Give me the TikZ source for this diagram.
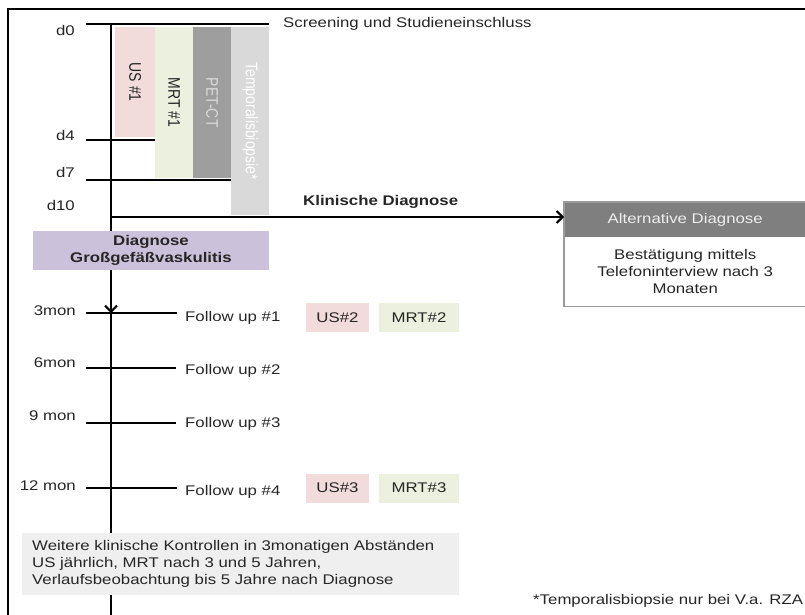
\documentclass[tikz,border=0pt]{standalone}
\usepackage{fontspec}
\setmainfont{Liberation Sans}[FakeStretch=1.2]
\newfontfamily\rotfont{Liberation Sans}
\usetikzlibrary{arrows.meta}
\definecolor{txt}{HTML}{262626}
\definecolor{uspink}{HTML}{F2DCDB}
\definecolor{mrtgreen}{HTML}{EBF1DE}
\definecolor{petgray}{HTML}{9E9E9E}
\definecolor{tempgray}{HTML}{D9D9D9}
\definecolor{lavender}{HTML}{CCC1DA}
\definecolor{altgray}{HTML}{7F7F7F}
\definecolor{altborder}{HTML}{9A9A9A}
\definecolor{notegray}{HTML}{EFEFEF}
\newcommand{\vtext}[1]{\scalebox{1.2}[1]{\rotatebox{-90}{\rotfont\fontsize{14}{17}\selectfont #1}}}
\begin{document}
\begin{tikzpicture}[x=1pt,y=-1pt,
  every node/.style={font=\fontsize{14}{17}\selectfont, text=txt, inner sep=0pt},
  tline/.style={line width=2pt, draw=black},
  vbox/.style={anchor=north west, minimum width=38, inner sep=0pt},
  exambox/.style={minimum height=29, inner sep=0pt},
  lbl/.style={anchor=base east},
  fup/.style={anchor=base west},
  arr/.style={-{Straight Barb[length=6pt,width=12pt]}}
]
\useasboundingbox (0,0) rectangle (805,614);
% frame
\coordinate (fbl) at (8,616);
\coordinate (ftl) at (8,9);
\coordinate (ftr) at (807,9);
\draw[line width=2pt] (fbl) -- (ftl) -- (ftr);

% examination bars
\node[vbox, fill=uspink, minimum width=40, minimum height=110] (us1) at (115,27) {\vtext{US \#1}};
\node[vbox, fill=mrtgreen, minimum height=151] (mrt1) at (155,27) {\vtext{MRT \#1}};
\node[vbox, fill=petgray, minimum height=151, text=tempgray] (pet) at (193,27) {\vtext{\color{tempgray}PET-CT}};
\node[vbox, fill=tempgray, minimum height=188] (temp) at (231,27) {\vtext{\color{white}Temporalisbiopsie*}};

% timeline coordinates
\coordinate (v0) at (111,23);
\coordinate (v3) at (111,313);
\coordinate (vend) at (111,616);
\coordinate (d0l) at (86,24);  \coordinate (d0r) at (269,24);
\coordinate (d4l) at (86,140); \coordinate (d4r) at (155,140);
\coordinate (d7l) at (86,180); \coordinate (d7r) at (231,180);
\coordinate (d10) at (110,217);
\coordinate (m3l) at (86,313);  \coordinate (m3r) at (177,313);
\coordinate (m6l) at (86,368);  \coordinate (m6r) at (176,368);
\coordinate (m9l) at (86,423);  \coordinate (m9r) at (176,423);
\coordinate (m12l) at (86,488); \coordinate (m12r) at (177,488);

% ticks
\draw[tline] (d0l) -- (d0r);
\draw[tline] (d4l) -- (d4r);
\draw[tline] (d7l) -- (d7r);
\draw[tline] (m3l) -- (m3r);
\draw[tline] (m6l) -- (m6r);
\draw[tline] (m9l) -- (m9r);
\draw[tline] (m12l) -- (m12r);

% main vertical line
\draw[tline, arr] (v0) -- (v3);
\draw[tline] (v3) -- (vend);

% alternative diagnosis box
\node[anchor=north west, fill=altgray, minimum width=242, minimum height=35] (althead) at (564,202) {\color[HTML]{EEEEEE}Alternative Diagnose};
\node[anchor=north west, fill=white, minimum width=242, minimum height=69, align=center] (altbody) at (564,237) {Bestätigung mittels\\Telefoninterview nach 3\\Monaten};
\draw[altborder, line width=1.2pt] (althead.north east) -- (althead.north west) -- (altbody.south west) -- (altbody.south east);

% clinical diagnosis arrow
\draw[tline, arr] (d10) -- (d10 -| althead.west);
\node[anchor=base west, font=\fontsize{14}{17}\selectfont\bfseries] (klin) at (303,205) {Klinische Diagnose};

% labels
\node[lbl] (ld0) at (75,35) {d0};
\node[lbl] (ld4) at (75,140) {d4};
\node[lbl] (ld7) at (75,177) {d7};
\node[lbl] (ld10) at (75,210) {d10};
\node[lbl] (lm3) at (76,315) {3mon};
\node[lbl] (lm6) at (76,367) {6mon};
\node[lbl] (lm9) at (76,420) {9 mon};
\node[lbl] (lm12) at (76,490) {12 mon};

\node[anchor=west] (screen) at (283,24) {Screening und Studieneinschluss};

% diagnosis box
\node[fill=lavender, minimum width=236, minimum height=39, align=center, font=\fontsize{14}{17}\selectfont\bfseries] (diag) at (151,250.5) {Diagnose\\Großgefäßvaskulitis};

% follow ups
\node[fup] (f1) at (185,321) {Follow up \#1};
\node[fup] (f2) at (185,374) {Follow up \#2};
\node[fup] (f3) at (185,427) {Follow up \#3};
\node[fup] (f4) at (185,495) {Follow up \#4};

\node[exambox, fill=uspink, minimum width=63] (us2) at (337.5,317.5) {US\#2};
\node[exambox, fill=mrtgreen, minimum width=80] (mrt2) at (419,317.5) {MRT\#2};
\node[exambox, fill=uspink, minimum width=63] (us3) at (337.5,488) {US\#3};
\node[exambox, fill=mrtgreen, minimum width=80] (mrt3) at (419,488) {MRT\#3};

% further controls
\node[anchor=north west, fill=notegray, minimum width=437, minimum height=62, text width=417, inner xsep=10pt, align=left] (note) at (22,533) {Weitere klinische Kontrollen in 3monatigen Abständen\\US jährlich, MRT nach 3 und 5 Jahren,\\Verlaufsbeobachtung bis 5 Jahre nach Diagnose};

\node[anchor=west] (foot) at (533,601) {*Temporalisbiopsie nur bei V.a. RZA};
\end{tikzpicture}
\end{document}
